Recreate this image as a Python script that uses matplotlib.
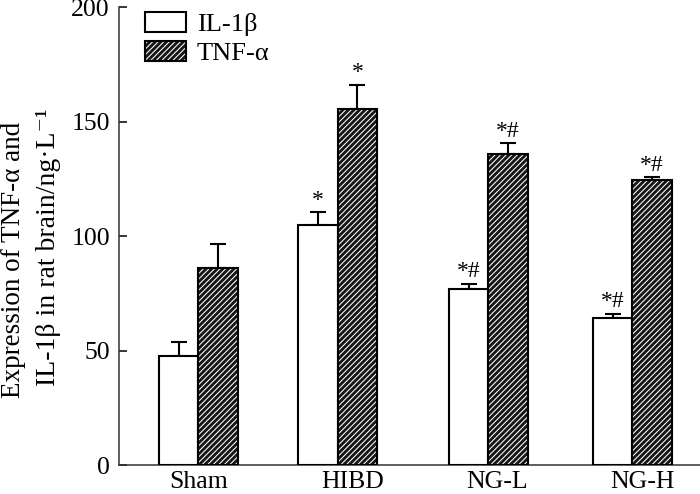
import matplotlib
matplotlib.use('Agg')
import matplotlib.pyplot as plt
from matplotlib.patches import Patch
from matplotlib.legend_handler import HandlerTuple
import numpy as np

plt.rcParams['font.family'] = ['Liberation Serif', 'DejaVu Serif']
plt.rcParams['hatch.linewidth'] = 0.75

# 数据
groups = ['Sham', 'HIBD', 'NG-L', 'NG-H']
il1b = [47.7, 105.0, 76.9, 64.6]
il1b_err = [6.1, 5.7, 2.5, 1.7]
tnfa = [86.3, 155.6, 136.0, 124.6]
tnfa_err = [10.2, 10.6, 4.7, 1.3]
il1b_mark = ['', '*', '*#', '*#']
tnfa_mark = ['', '*', '*#', '*#']

# 组位置（原图间距略不均匀）
centers = np.array([0, 0.9636, 2.0046, 3.0])
label_pos = [0, 1.07, 2.065, 3.07]
w = 0.272

fig = plt.figure(figsize=(7, 4.94), dpi=100)
ax = fig.add_axes([0.170, 0.0577, 0.830, 0.9275])

x1 = centers - w / 2
x2 = centers + w / 2

# IL-1β 白色柱
ax.bar(x1, il1b, w, color='white', edgecolor='black', linewidth=1.5, zorder=3)
ax.errorbar(x1, il1b, yerr=[np.zeros(4), il1b_err], fmt='none', ecolor='black',
            elinewidth=1.5, capsize=6, capthick=1.5, zorder=2)

# TNF-α 斜线柱
ax.bar(x2, tnfa, w, color='#161616', edgecolor='white', linewidth=0, hatch='//////', zorder=3)
ax.bar(x2, tnfa, w, fill=False, edgecolor='black', linewidth=1.5, zorder=4)
ax.errorbar(x2, tnfa, yerr=[np.zeros(4), tnfa_err], fmt='none', ecolor='black',
            elinewidth=1.5, capsize=6, capthick=1.5, zorder=2)

# 显著性标记
for x, v, e, m in zip(x1, il1b, il1b_err, il1b_mark):
    if m:
        ax.annotate(m, (x, v + e), xytext=(0, 1), textcoords='offset points',
                    ha='center', va='bottom', fontsize=17)
for x, v, e, m in zip(x2, tnfa, tnfa_err, tnfa_mark):
    if m:
        ax.annotate(m, (x, v + e), xytext=(0, 1), textcoords='offset points',
                    ha='center', va='bottom', fontsize=17)

ax.set_ylim(0, 200)
ax.set_xlim(-0.548, 3.467)
ax.set_yticks([0, 50, 100, 150, 200])
ax.set_xticks(label_pos)
ax.set_xticklabels(groups)
ax.tick_params(axis='y', direction='in', length=5.5, width=1.1, pad=6.5, labelsize=18.5)
ax.tick_params(axis='x', length=0, pad=4, labelsize=18.5)
for s in ['top', 'right']:
    ax.spines[s].set_visible(False)
for s in ['left', 'bottom']:
    ax.spines[s].set_linewidth(1.1)
    ax.spines[s].set_color('#333333')

# 纵轴标题（两行）
fig.text(26.5 / 700, 0.4747, 'Expression of TNF-α and', rotation=90, ha='right', va='center',
         fontsize=19.5)
fig.text(61 / 700, 0.500, 'IL-1β in rat brain/ng·L⁻¹', rotation=90, ha='right', va='center',
         fontsize=20)

h1 = Patch(facecolor='white', edgecolor='black', linewidth=1.5)
h2a = Patch(facecolor='#161616', edgecolor='white', linewidth=0, hatch='//////')
h2b = Patch(fill=False, edgecolor='black', linewidth=1.5)
ax.legend([h1, (h2a, h2b)], ['IL-1β', 'TNF-α'], handler_map={tuple: HandlerTuple(ndivide=1)},
          loc='upper left', bbox_to_anchor=(0.045, 0.99), frameon=False, fontsize=19,
          handlelength=1.55, handleheight=0.78, labelspacing=0.18, handletextpad=0.4,
          borderpad=0, borderaxespad=0)

fig.savefig('out.png', dpi=100)
